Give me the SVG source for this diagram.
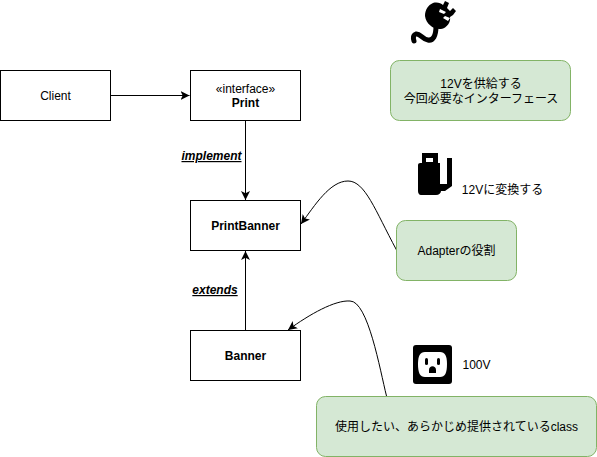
<svg xmlns="http://www.w3.org/2000/svg" width="597" height="457" viewBox="0 0 597 457">
<style>
text{font-family:"Liberation Sans","Noto Sans CJK JP",sans-serif;font-size:12px;fill:#000;text-anchor:middle}
.b{font-weight:bold}
.box{fill:#fff;stroke:#000;stroke-width:1}
.note{fill:#d5e8d4;stroke:#82b366;stroke-width:1}
.c{fill:none;stroke:#000;stroke-width:1}
.lbl{font-weight:bold;font-style:italic;text-decoration:underline}
</style>
<defs><marker id="a" markerUnits="userSpaceOnUse" markerWidth="12" markerHeight="10" refX="9" refY="4.500" orient="auto"><path d="M0 0L9 4.500L0 9L2.200 4.500Z" fill="#000"/></marker></defs>
<rect width="597" height="457" fill="#fff"/>
<g id="connectors">
<path class="c" d="M110.500 95.500H189.500" marker-end="url(#a)"/>
<path class="c" d="M245.500 120.500V200" marker-end="url(#a)"/>
<path class="c" d="M245.500 330.500V251" marker-end="url(#a)"/>
<path class="c" d="M396.500 250C375 210 365 181 348 181C330 181 315 205 301 224" marker-end="url(#a)"/>
<path class="c" d="M386.500 396C380 370 368 301 350 301C335 300 310 314 288 330" marker-end="url(#a)"/>
</g>
<g id="client"><rect class="box" x="0.500" y="70.500" width="110" height="50"/><text x="55.500" y="100">Client</text></g>
<g id="print"><rect class="box" x="190.500" y="70.500" width="110" height="50"/><text x="245.500" y="93">«interface»</text><text class="b" x="245.500" y="107">Print</text></g>
<g id="printbanner"><rect class="box" x="190.500" y="200.500" width="110" height="50"/><text class="b" x="245.500" y="230">PrintBanner</text></g>
<g id="banner"><rect class="box" x="190.500" y="330.500" width="110" height="50"/><text class="b" x="245.500" y="360">Banner</text></g>
<text class="lbl" x="211.500" y="160">implement</text>
<text class="lbl" x="215" y="294">extends</text>
<g id="note-12v"><rect class="note" x="390.500" y="60.500" width="180" height="60" rx="9"/><text x="481" y="88">12Vを供給する</text><text x="481" y="103">今回必要なインターフェース</text></g>
<g id="note-adapter"><rect class="note" x="396.500" y="220.500" width="120" height="60" rx="9"/><text x="456.500" y="255">Adapterの役割</text></g>
<g id="note-class"><rect class="note" x="316.500" y="396.500" width="280" height="60" rx="9"/><text x="456.500" y="431">使用したい、あらかじめ提供されているclass</text></g>
<g id="icon-plug">
<path fill="none" stroke="#000" stroke-width="5" stroke-linecap="round" d="M436 26C436 36 433 41 428 40C422 39 420 33 416 34C413 35 413 38 414 41"/>
<path fill="#000" d="M433 3C437 2 441 3 443 5L445 1L449 3L447 8L450 11L453 8L456 11L453 15L450 17C451 22 447 28 441 29C434 30 426 24 425 16C425 10 428 5 433 3Z"/>
<path fill="#fff" d="M440 9L446 12L444 14L439 12ZM445 16L450 18L448 21L443 18Z"/>
</g>
<g id="icon-adapter">
<path fill="#000" d="M422 153H438V163H440V184L447 184V158H452V186L445 191H441C441 193 439 195 436 195H421C419 195 418 193 418 191V165C418 163 420 163 422 163Z"/>
<rect fill="#fff" x="426" y="158" width="7" height="4"/>
</g>
<text x="502.500" y="194">12Vに変換する</text>
<g id="icon-outlet">
<rect fill="#000" x="413" y="345" width="39" height="39" rx="3"/>
<path fill="#fff" d="M425 352H440C445 352 447 356 447 364C447 373 445 377 440 377H425C420 377 418 373 418 364C418 356 420 352 425 352Z"/>
<rect fill="#000" x="425" y="358" width="3" height="7" rx="1.500"/>
<rect fill="#000" x="437" y="358" width="3" height="7" rx="1.500"/>
<path fill="#000" d="M429 373V370C429 365 436 365 436 370V373Z"/>
</g>
<text x="476.500" y="369">100V</text>
</svg>
